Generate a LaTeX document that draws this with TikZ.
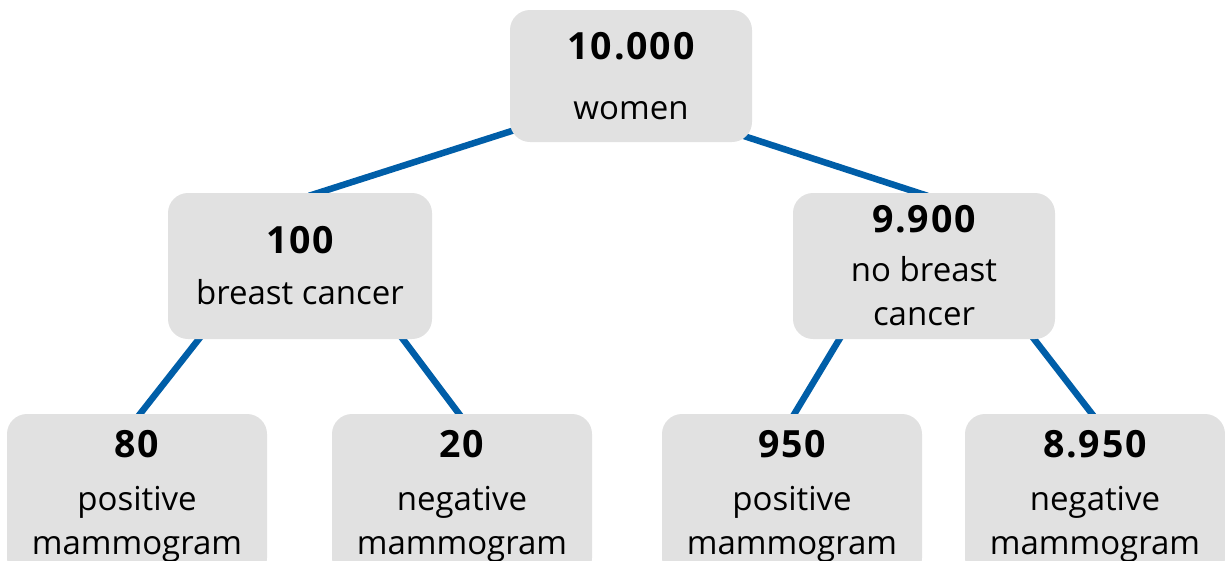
\documentclass[tikz,border=0pt]{standalone}
\usepackage{fontspec}
\setmainfont{Open Sans}
\newfontfamily\cntfont[LetterSpace=5]{Open Sans}
\usetikzlibrary{backgrounds}

\definecolor{boxgray}{RGB}{225,225,225}
\definecolor{linkblue}{RGB}{0,94,168}

\begin{document}
\begin{tikzpicture}[x=1pt, y=-1pt,
    box/.style={fill=boxgray, rounded corners=20pt, inner sep=0pt, align=center,
        minimum width=260pt, minimum height=146pt, font=\fontsize{33}{44}\selectfont},
    link/.style={draw=linkblue, line width=6.5pt}]
    % parameters
    \def\cnt#1{{\cntfont\fontsize{37.5}{44}\selectfont\bfseries #1}}

    % frame (bottom row is cut off)
    \clip (0,0) rectangle (1225,560);

    % root
    \node[box, minimum width=242pt, minimum height=132pt] (women) at (631,76)
        {\cnt{10.000}\\[16pt]women};

    % second level
    \node[box, minimum width=264pt] (cancer) at (300,266)
        {\cnt{100}\\[7pt]breast cancer};
    \node[box, minimum width=262pt] (nocancer) at (924,266)
        {\cnt{9.900}\\[5pt]no breast\\cancer};

    % third level
    \node[box, minimum height=164pt] (truepos) at (137,496)
        {\cnt{80}\\[9pt]positive\\mammogram};
    \node[box, minimum height=164pt] (falseneg) at (462,496)
        {\cnt{20}\\[9pt]negative\\mammogram};
    \node[box, minimum height=164pt] (falsepos) at (792,496)
        {\cnt{950}\\[9pt]positive\\mammogram};
    \node[box, minimum height=164pt] (trueneg) at (1095,496)
        {\cnt{8.950}\\[9pt]negative\\mammogram};

    % branches behind the boxes
    \begin{scope}[on background layer]
        \draw[link] ([xshift=9pt,yshift=-3pt]cancer.north) -- ([xshift=20pt,yshift=17pt]women.south west);
        \draw[link] ([xshift=3.5pt,yshift=-3pt]nocancer.north) -- ([xshift=-17pt,yshift=9pt]women.south east);
        \draw[link] ([xshift=38pt,yshift=9pt]cancer.south west) -- ([yshift=-4pt]truepos.north);
        \draw[link] ([xshift=-36pt,yshift=9pt]cancer.south east) -- ([yshift=-4pt]falseneg.north);
        \draw[link] ([xshift=52pt,yshift=9pt]nocancer.south west) -- ([yshift=-4pt]falsepos.north);
        \draw[link] ([xshift=-28pt,yshift=9pt]nocancer.south east) -- ([yshift=-4pt]trueneg.north);
    \end{scope}
\end{tikzpicture}
\end{document}
